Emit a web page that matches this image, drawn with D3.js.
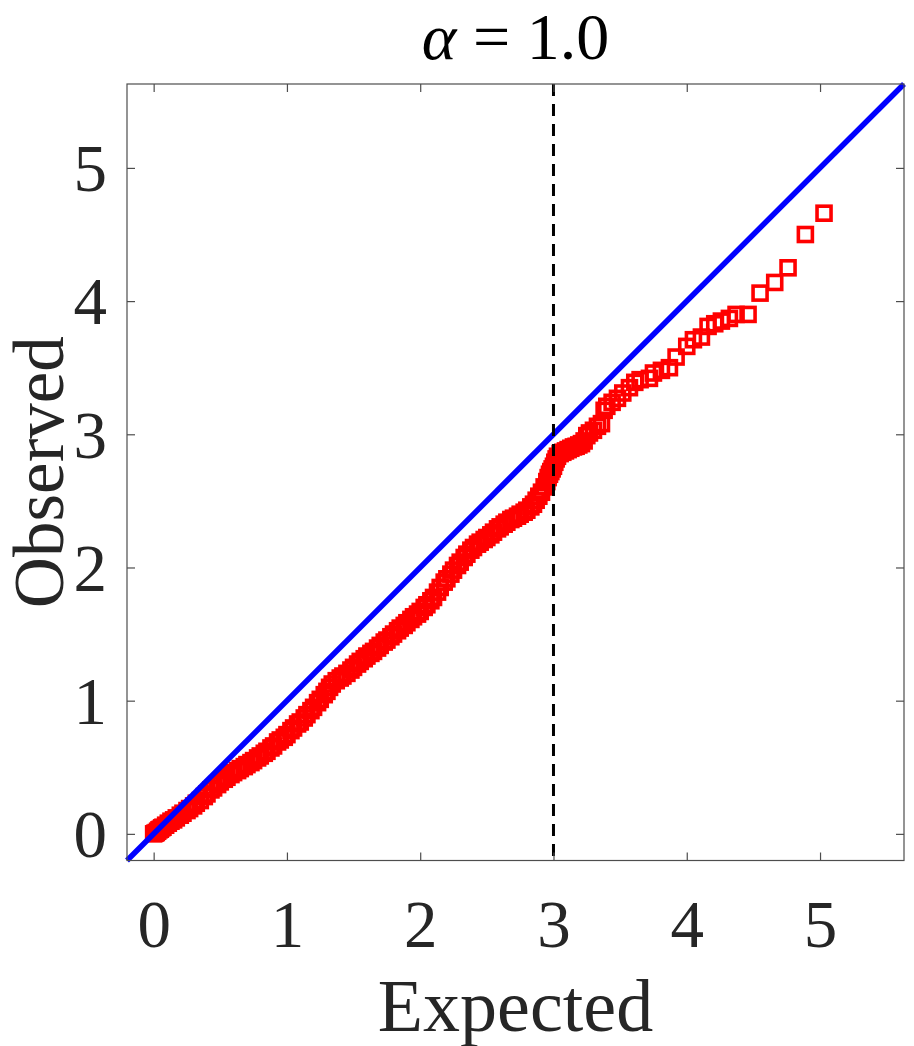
<!DOCTYPE html>
<html lang="en">
<head>
<meta charset="UTF-8">
<title>QQ plot alpha = 1.0</title>
<script src="https://d3js.org/d3.v7.min.js"></script>
<style>
    body { margin: 0; background: #fff; }
</style>
</head>
<body>
<script>

    // expected vs observed, dense part of the curve
    var densePoints = [
        [0.00, 0.000], [0.01, 0.005], [0.02, 0.010], [0.03, 0.020], [0.04, 0.030],
        [0.05, 0.035], [0.06, 0.045], [0.07, 0.050], [0.09, 0.065], [0.11, 0.080],
        [0.13, 0.095], [0.15, 0.105], [0.17, 0.120], [0.20, 0.140], [0.22, 0.155],
        [0.25, 0.175], [0.27, 0.190], [0.30, 0.210], [0.32, 0.230], [0.35, 0.250],
        [0.38, 0.280], [0.40, 0.300], [0.43, 0.330], [0.45, 0.345], [0.48, 0.370],
        [0.50, 0.390], [0.53, 0.410], [0.55, 0.425], [0.58, 0.445], [0.60, 0.460],
        [0.63, 0.475], [0.65, 0.490], [0.68, 0.505], [0.70, 0.520], [0.73, 0.535],
        [0.75, 0.550], [0.78, 0.570], [0.80, 0.585], [0.83, 0.605], [0.85, 0.620],
        [0.88, 0.645], [0.90, 0.660], [0.93, 0.690], [0.95, 0.705], [0.98, 0.725],
        [1.00, 0.745], [1.03, 0.775], [1.05, 0.795], [1.08, 0.825], [1.10, 0.840],
        [1.13, 0.870], [1.15, 0.895], [1.18, 0.925], [1.20, 0.950], [1.23, 0.985],
        [1.25, 1.010], [1.28, 1.045], [1.30, 1.070], [1.32, 1.100], [1.34, 1.125],
        [1.37, 1.150], [1.40, 1.170], [1.42, 1.185], [1.45, 1.205], [1.48, 1.230],
        [1.50, 1.250], [1.53, 1.275], [1.55, 1.295], [1.58, 1.315], [1.60, 1.335],
        [1.63, 1.355], [1.65, 1.370], [1.68, 1.395], [1.70, 1.415], [1.73, 1.440],
        [1.75, 1.455], [1.78, 1.480], [1.80, 1.500], [1.83, 1.525], [1.85, 1.545],
        [1.88, 1.565], [1.90, 1.585], [1.93, 1.610], [1.95, 1.630], [1.98, 1.650],
        [2.00, 1.670], [2.03, 1.700], [2.05, 1.720], [2.08, 1.750], [2.10, 1.775],
        [2.13, 1.815], [2.15, 1.850], [2.18, 1.890], [2.20, 1.915], [2.23, 1.950],
        [2.25, 1.980], [2.28, 2.015], [2.30, 2.040], [2.33, 2.075], [2.35, 2.100],
        [2.38, 2.130], [2.40, 2.150], [2.43, 2.175], [2.45, 2.190], [2.48, 2.210],
        [2.50, 2.225], [2.53, 2.245], [2.55, 2.265], [2.58, 2.290], [2.60, 2.305],
        [2.63, 2.325], [2.65, 2.340], [2.68, 2.360], [2.70, 2.370], [2.73, 2.385],
        [2.75, 2.400], [2.78, 2.415], [2.80, 2.430], [2.83, 2.455], [2.85, 2.475],
        [2.87, 2.505], [2.89, 2.535], [2.91, 2.565], [2.93, 2.605], [2.95, 2.645],
        [2.96, 2.675], [2.97, 2.700], [2.98, 2.720], [2.99, 2.740], [3.00, 2.760],
        [3.01, 2.790], [3.02, 2.815], [3.03, 2.835], [3.05, 2.855], [3.07, 2.865],
        [3.09, 2.875], [3.11, 2.885], [3.13, 2.895], [3.15, 2.905], [3.17, 2.910],
        [3.19, 2.920], [3.21, 2.930], [3.23, 2.950], [3.25, 2.990], [3.27, 3.010]
    ];

    // upper tail, single squares
    var tailPoints = [
        [3.30, 3.030], [3.33, 3.060], [3.36, 3.080], [3.38, 3.180], [3.40, 3.210],
        [3.44, 3.240], [3.48, 3.270], [3.52, 3.310], [3.57, 3.350], [3.61, 3.390],
        [3.65, 3.410], [3.72, 3.420], [3.75, 3.460], [3.81, 3.480], [3.87, 3.500],
        [3.92, 3.580], [4.00, 3.660], [4.05, 3.710], [4.11, 3.730], [4.16, 3.810],
        [4.21, 3.830], [4.26, 3.850], [4.32, 3.870], [4.37, 3.900], [4.46, 3.900],
        [4.55, 4.060], [4.66, 4.140], [4.76, 4.250], [4.89, 4.500], [5.03, 4.660]
    ];

    var tickValues = [0, 1, 2, 3, 4, 5];
    var axisDomain = [-0.2, 5.63];
    var cutoff = 3;

    var width = 914;
    var height = 1046;
    var serif = '"Liberation Serif", "Times New Roman", Times, serif';

    var svg = d3.select("body").append("svg")
        .attr("width", width)
        .attr("height", height);

    var x = d3.scaleLinear().domain(axisDomain).range([127, 904]);
    var y = d3.scaleLinear().domain(axisDomain).range([860.5, 84]);

    var axisColor = "#4d4d4d";
    var labelColor = "#262626";

    // red squares
    var points = densePoints.concat(tailPoints);
    var side = 14;
    svg.append("g")
        .selectAll("rect")
        .data(points)
        .enter()
        .append("rect")
        .attr("x", function (d) { return x(d[0]) - side / 2; })
        .attr("y", function (d) { return y(d[1]) - side / 2; })
        .attr("width", side)
        .attr("height", side)
        .attr("fill", "none")
        .attr("stroke", "#ff0000")
        .attr("stroke-width", 3.6);

    // y = x reference
    svg.append("line")
        .attr("x1", x(axisDomain[0]))
        .attr("y1", y(axisDomain[0]))
        .attr("x2", x(axisDomain[1]))
        .attr("y2", y(axisDomain[1]))
        .attr("stroke", "#0000ff")
        .attr("stroke-width", 5.5);

    // dashed cutoff line
    svg.append("line")
        .attr("x1", x(cutoff))
        .attr("x2", x(cutoff))
        .attr("y1", y(axisDomain[1]))
        .attr("y2", y(axisDomain[0]))
        .attr("stroke", "#000")
        .attr("stroke-width", 3)
        .attr("stroke-dasharray", "12,8");

    // box with inward ticks on all four sides
    function styleAxis(g) {
        g.attr("font-family", serif);
        g.select(".domain").remove();
        g.selectAll(".tick line").attr("stroke", axisColor).attr("stroke-width", 1.2);
    }

    var bottom = svg.append("g")
        .attr("transform", "translate(0," + y(axisDomain[0]) + ")")
        .call(d3.axisBottom(x).tickValues(tickValues).tickSize(-8).tickFormat(d3.format("d")))
        .call(styleAxis);
    bottom.selectAll("text")
        .attr("y", 86)
        .attr("dy", null)
        .attr("fill", labelColor)
        .style("font-family", serif)
        .style("font-size", "67px");

    svg.append("g")
        .attr("transform", "translate(0," + y(axisDomain[1]) + ")")
        .call(d3.axisTop(x).tickValues(tickValues).tickSize(-8).tickFormat(""))
        .call(styleAxis);

    var left = svg.append("g")
        .attr("transform", "translate(" + x(axisDomain[0]) + ",0)")
        .call(d3.axisLeft(y).tickValues(tickValues).tickSize(-8).tickFormat(d3.format("d")))
        .call(styleAxis);
    left.selectAll("text")
        .attr("x", -20)
        .attr("dy", "0.34em")
        .attr("fill", labelColor)
        .style("font-family", serif)
        .style("font-size", "67px");

    svg.append("g")
        .attr("transform", "translate(" + x(axisDomain[1]) + ",0)")
        .call(d3.axisRight(y).tickValues(tickValues).tickSize(-8).tickFormat(""))
        .call(styleAxis);

    svg.append("rect")
        .attr("x", x(axisDomain[0]))
        .attr("y", y(axisDomain[1]))
        .attr("width", x(axisDomain[1]) - x(axisDomain[0]))
        .attr("height", y(axisDomain[0]) - y(axisDomain[1]))
        .attr("fill", "none")
        .attr("stroke", axisColor)
        .attr("stroke-width", 1.2);

    // labels
    var midX = (x(axisDomain[0]) + x(axisDomain[1])) / 2;
    var midY = (y(axisDomain[0]) + y(axisDomain[1])) / 2;

    svg.append("text")
        .attr("x", midX)
        .attr("y", 1031)
        .attr("text-anchor", "middle")
        .attr("fill", labelColor)
        .style("font-family", serif)
        .style("font-size", "74px")
        .text("Expected");

    svg.append("text")
        .attr("transform", "translate(63," + midY + ") rotate(-90)")
        .attr("text-anchor", "middle")
        .attr("fill", labelColor)
        .style("font-family", serif)
        .style("font-size", "71px")
        .text("Observed");

    var title = svg.append("text")
        .attr("x", midX)
        .attr("y", 59)
        .attr("text-anchor", "middle")
        .attr("fill", "#000")
        .style("font-family", serif)
        .style("font-size", "66px");
    title.append("tspan").style("font-style", "italic").text("α");
    title.append("tspan").text(" = 1.0");

</script>
</body>
</html>
